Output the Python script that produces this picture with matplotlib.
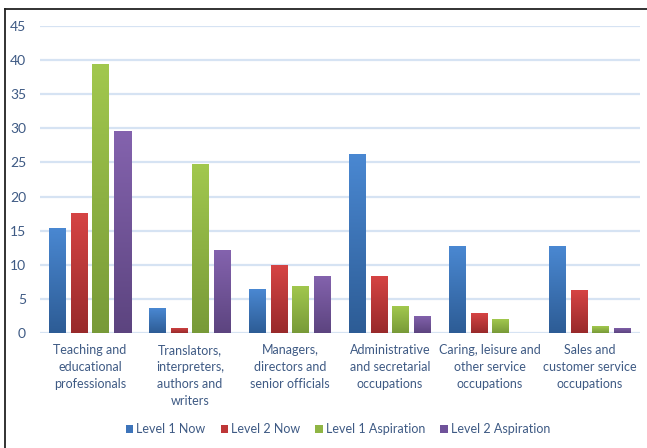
import numpy as np
import matplotlib
matplotlib.use("Agg")
from matplotlib import pyplot as plt
from matplotlib.lines import Line2D
from matplotlib.colors import LinearSegmentedColormap
from matplotlib.patches import Patch

categories = [
    "Teaching and\neducational\nprofessionals",
    "Translators,\ninterpreters,\nauthors and\nwriters",
    "Managers,\ndirectors and\nsenior officials",
    "Administrative\nand secretarial\noccupations",
    "Caring, leisure and\nother service\noccupations",
    "Sales and\ncustomer service\noccupations",
]
series_names = ["Level 1 Now", "Level 2 Now", "Level 1 Aspiration", "Level 2 Aspiration"]
level1_now = [15.4, 3.6, 6.4, 26.2, 12.7, 12.7]
level2_now = [17.6, 0.8, 9.9, 8.4, 2.9, 6.3]
level1_asp = [39.5, 24.7, 6.9, 3.9, 2.0, 1.0]
level2_asp = [29.6, 12.1, 8.4, 2.5, 0.0, 0.8]
yticks = [0, 5, 10, 15, 20, 25, 30, 35, 40, 45]

# (top, bottom) colours for each series' vertical gradient
grads = [("#4A88D2", "#2D5C95"), ("#D64444", "#982A2B"),
         ("#A2C84E", "#789A38"), ("#8463AE", "#5C447F")]
swatch = ["#3D74BA", "#BE3637", "#8FB544", "#6F529A"]
text_col = "#3E5A84"
plt.rcParams['font.family'] = ['Lato', 'DejaVu Sans']

fig = plt.figure(figsize=(6.47, 4.48), dpi=100)
ax = fig.add_axes([40 / 647, 115 / 448, 600 / 647, 307 / 448])

data = [level1_now, level2_now, level1_asp, level2_asp]
x = np.arange(len(categories))
width = 0.17
step = 0.217
grad_img = np.linspace(0, 1, 256).reshape(-1, 1)

for i, vals in enumerate(data):
    pos = x + (i - 1.5) * step
    bars = ax.bar(pos, vals, width, color=swatch[i], zorder=3, linewidth=0)
    cmap = LinearSegmentedColormap.from_list("g%d" % i, [grads[i][1], grads[i][0]])
    for b in bars:
        h = b.get_height()
        if h <= 0:
            continue
        im = ax.imshow(grad_img, cmap=cmap, origin="lower", aspect="auto",
                       extent=[b.get_x(), b.get_x() + b.get_width(), 0, h],
                       zorder=4)
        im.set_clip_path(b)

ax.set_xlim(-0.5, 5.5)
ax.set_ylim(0, 45)
ax.set_yticks(yticks)
ax.yaxis.grid(True, color="#D6E3F3", linewidth=1.6, zorder=0)
ax.set_axisbelow(True)
for s in ax.spines.values():
    s.set_visible(False)
ax.tick_params(axis="both", length=0, colors=text_col)
ax.tick_params(axis="y", pad=10, labelsize=10)
ax.set_xticks(x)
ax.set_xticklabels(categories, linespacing=1.5, color=text_col, fontsize=9,
                   va="top")
ax.tick_params(axis="x", pad=8)

handles = [Patch(facecolor=swatch[i], edgecolor="none") for i in range(4)]
fig.legend(handles, series_names, loc="center", bbox_to_anchor=(338 / 647, 1 - 429 / 448),
           ncol=4, frameon=False, fontsize=9, labelcolor=text_col,
           handlelength=0.6, handleheight=0.6, handletextpad=0.25, columnspacing=1.2)

# border around the chart (left and top edges)
fig.add_artist(Line2D([5 / 647, 5 / 647], [0, 1 - 9 / 448], color="#222222", linewidth=1.3))
fig.add_artist(Line2D([5 / 647, 1], [1 - 9 / 448, 1 - 9 / 448], color="#222222", linewidth=1.3))

fig.savefig("out.png", dpi=100)
